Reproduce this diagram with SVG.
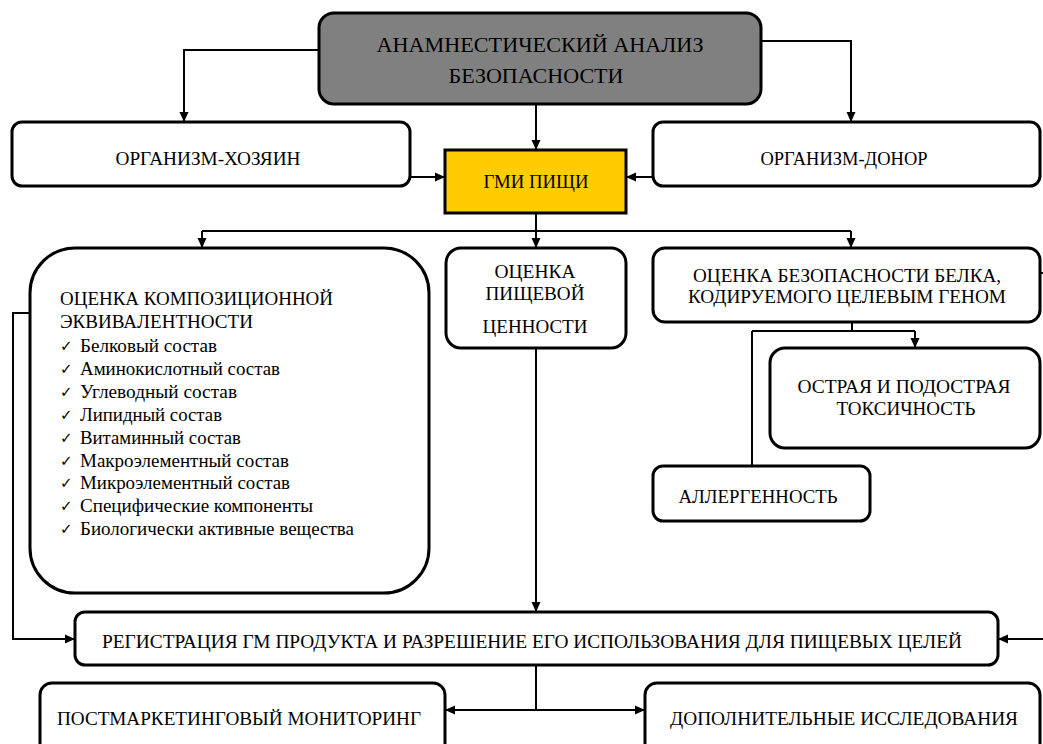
<svg xmlns="http://www.w3.org/2000/svg" width="1043" height="744" viewBox="0 0 1043 744">
<defs>
<marker id="arr" markerUnits="userSpaceOnUse" markerWidth="10" markerHeight="10" refX="10" refY="5" orient="auto">
<path d="M0,0.5 L10,5 L0,9.5 z" fill="#000"/>
</marker>
<style>
.box{fill:#fff;stroke:#000;stroke-width:3}
.t{font-family:'Liberation Serif','Times New Roman',Times,'Tinos','Nimbus Roman','Nimbus Roman No9 L','FreeSerif','DejaVu Serif','Noto Serif',serif;font-size:19px;fill:#000}
.c{text-anchor:middle}
.ck{font-family:'DejaVu Sans',sans-serif;font-size:15px;fill:#000}
.ln{fill:none;stroke:#000;stroke-width:2}
.ar{marker-end:url(#arr)}
</style>
</defs>
<rect width="1043" height="744" fill="#fff"/>
<g id="connectors">
<path class="ln ar" d="M319,50 H184 V122"/>
<path class="ln ar" d="M761,41 H851 V122"/>
<path class="ln ar" d="M536,104 V150"/>
<path class="ln ar" d="M410,177 H445"/>
<path class="ln ar" d="M653,177 H626"/>
<path class="ln ar" d="M536,213 V248"/>
<path class="ln" d="M202,231 H851"/>
<path class="ln ar" d="M202,231 V248"/>
<path class="ln ar" d="M851,231 V248"/>
<path class="ln ar" d="M536,348 V612"/>
<path class="ln ar" d="M30,313 H13 V639 H75"/>
<path class="ln" d="M1040,273 H1043"/>
<path class="ln ar" d="M1043,639 H998"/>
<path class="ln" d="M852,313 V331"/>
<path class="ln" d="M752,331 H915"/>
<path class="ln ar" d="M915,331 V348"/>
<path class="ln" d="M752,331 V466"/>
<path class="ln" d="M536,665 V710"/>
<path class="ln ar" d="M536,710 H445"/>
<path class="ln ar" d="M536,710 H645"/>
</g>
<g id="anamnesis">
<rect x="319" y="13" width="442" height="91" rx="15" fill="#808080" stroke="#000" stroke-width="3"/>
<text class="t c" x="540" y="52" style="font-size:22px" textLength="327" lengthAdjust="spacingAndGlyphs">АНАМНЕСТИЧЕСКИЙ АНАЛИЗ</text>
<text class="t c" x="536" y="83" style="font-size:22px" textLength="175" lengthAdjust="spacingAndGlyphs">БЕЗОПАСНОСТИ</text>
</g>
<g id="host">
<rect class="box" x="12" y="122" width="398" height="64" rx="10"/>
<text class="t c" x="208" y="165" textLength="185" lengthAdjust="spacingAndGlyphs">ОРГАНИЗМ-ХОЗЯИН</text>
</g>
<g id="donor">
<rect class="box" x="653" y="122" width="387" height="64" rx="10"/>
<text class="t c" x="844" y="165" textLength="167" lengthAdjust="spacingAndGlyphs">ОРГАНИЗМ-ДОНОР</text>
</g>
<g id="gmi">
<rect x="445" y="150" width="181" height="63" fill="#FFCC00" stroke="#000" stroke-width="3"/>
<text class="t c" x="536" y="188" textLength="105" lengthAdjust="spacingAndGlyphs">ГМИ ПИЩИ</text>
</g>
<g id="composition">
<rect class="box" x="30" y="248" width="399" height="345" rx="45"/>
<text class="t" x="60" y="305" textLength="273" lengthAdjust="spacingAndGlyphs">ОЦЕНКА КОМПОЗИЦИОННОЙ</text>
<text class="t" x="60" y="328" textLength="193" lengthAdjust="spacingAndGlyphs">ЭКВИВАЛЕНТНОСТИ</text>
<g class="ck">
<text x="60" y="351">✓</text>
<text x="60" y="374">✓</text>
<text x="60" y="397">✓</text>
<text x="60" y="420">✓</text>
<text x="60" y="443">✓</text>
<text x="60" y="466">✓</text>
<text x="60" y="488">✓</text>
<text x="60" y="511">✓</text>
<text x="60" y="534">✓</text>
</g>
<text class="t" x="80" y="352" textLength="137" lengthAdjust="spacingAndGlyphs">Белковый состав</text>
<text class="t" x="80" y="375" textLength="200" lengthAdjust="spacingAndGlyphs">Аминокислотный состав</text>
<text class="t" x="80" y="398" textLength="157" lengthAdjust="spacingAndGlyphs">Углеводный состав</text>
<text class="t" x="80" y="421" textLength="142" lengthAdjust="spacingAndGlyphs">Липидный состав</text>
<text class="t" x="80" y="444" textLength="161" lengthAdjust="spacingAndGlyphs">Витаминный состав</text>
<text class="t" x="80" y="467" textLength="209" lengthAdjust="spacingAndGlyphs">Макроэлементный состав</text>
<text class="t" x="80" y="489" textLength="210" lengthAdjust="spacingAndGlyphs">Микроэлементный состав</text>
<text class="t" x="80" y="512" textLength="233" lengthAdjust="spacingAndGlyphs">Специфические компоненты</text>
<text class="t" x="80" y="535" textLength="274" lengthAdjust="spacingAndGlyphs">Биологически активные вещества</text>
</g>
<g id="nutrition">
<rect class="box" x="446" y="248" width="180" height="100" rx="15"/>
<text class="t c" x="535" y="278" textLength="81" lengthAdjust="spacingAndGlyphs">ОЦЕНКА</text>
<text class="t c" x="535" y="300" textLength="99" lengthAdjust="spacingAndGlyphs">ПИЩЕВОЙ</text>
<text class="t c" x="535" y="333" textLength="105" lengthAdjust="spacingAndGlyphs">ЦЕННОСТИ</text>
</g>
<g id="protein">
<rect class="box" x="653" y="248" width="387" height="74" rx="12"/>
<text class="t c" x="847" y="282" textLength="308" lengthAdjust="spacingAndGlyphs">ОЦЕНКА БЕЗОПАСНОСТИ БЕЛКА,</text>
<text class="t c" x="847" y="303" textLength="318" lengthAdjust="spacingAndGlyphs">КОДИРУЕМОГО ЦЕЛЕВЫМ ГЕНОМ</text>
</g>
<g id="toxicity">
<rect class="box" x="770" y="348" width="270" height="100" rx="15"/>
<text class="t c" x="904" y="393" textLength="213" lengthAdjust="spacingAndGlyphs">ОСТРАЯ И ПОДОСТРАЯ</text>
<text class="t c" x="906" y="415" textLength="139" lengthAdjust="spacingAndGlyphs">ТОКСИЧНОСТЬ</text>
</g>
<g id="allergen">
<rect class="box" x="653" y="466" width="217" height="55" rx="10"/>
<text class="t c" x="758" y="503" textLength="159" lengthAdjust="spacingAndGlyphs">АЛЛЕРГЕННОСТЬ</text>
</g>
<g id="registration">
<rect class="box" x="75" y="612" width="923" height="53" rx="10"/>
<text class="t c" x="532" y="648" textLength="860" lengthAdjust="spacingAndGlyphs">РЕГИСТРАЦИЯ ГМ ПРОДУКТА И РАЗРЕШЕНИЕ ЕГО ИСПОЛЬЗОВАНИЯ ДЛЯ ПИЩЕВЫХ ЦЕЛЕЙ</text>
</g>
<g id="postmarketing">
<rect class="box" x="40" y="683" width="405" height="75" rx="12"/>
<text class="t c" x="239" y="725" textLength="364" lengthAdjust="spacingAndGlyphs">ПОСТМАРКЕТИНГОВЫЙ МОНИТОРИНГ</text>
</g>
<g id="additional">
<rect class="box" x="645" y="683" width="395" height="75" rx="12"/>
<text class="t c" x="844" y="725" textLength="348" lengthAdjust="spacingAndGlyphs">ДОПОЛНИТЕЛЬНЫЕ ИССЛЕДОВАНИЯ</text>
</g>
</svg>
